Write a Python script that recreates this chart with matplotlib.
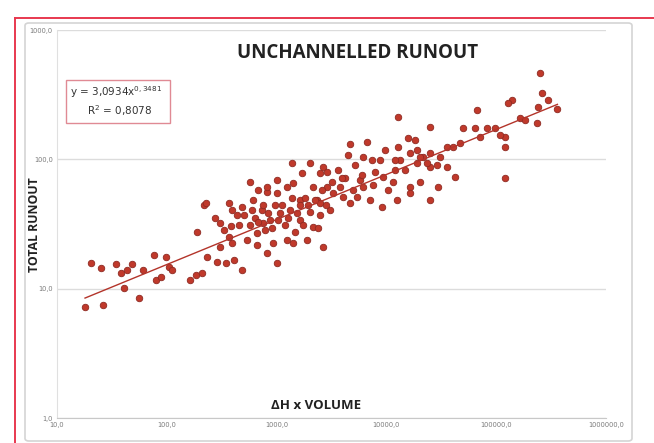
import numpy as np
import matplotlib.pyplot as plt
from matplotlib.patches import Rectangle, FancyBboxPatch
from matplotlib.ticker import FixedLocator, NullLocator

# Measured events: dH x volume vs total runout
volume = [
    18.0, 26.3, 20.4, 25.2, 34.6, 38.4, 48.4, 61.0, 40.9, 56.1,
    76.9, 80.2, 89.1, 98.9, 105, 112, 161, 186, 211, 190,
    234, 289, 349, 413, 479, 302, 396, 532, 657, 811,
    1000, 919, 1234, 1400, 1879, 2631, 2132, 657, 745, 302,
    372, 43.6,
    567, 1000, 1371, 2002, 1692, 2470, 2631, 811, 220, 372,
    396, 604, 671, 811, 1000, 1234, 1400, 1622, 2132, 2319,
    2861,
    510, 630, 730, 863, 1065, 1314, 1622, 2002, 1183, 777,
    1460, 567, 459, 959, 1622, 2470, 3048, 2368, 1802, 229.5,
    2.52e5, 2.63e5, 3.61e5, 2.42e5, 2.37e5, 1.40e5, 1.29e5, 1.66e5, 6.71e4, 5.0e4,
    6.43e4, 8.28e4, 7.14e4, 1.21e5, 1.21e5, 1.21e5, 1.27e4, 2.50e4, 1.57e4, 1.27e4,
    4642, 6636, 6102, 4450, 8720, 1.33e4, 1.64e4, 1.90e4, 2.15e4, 2.50e4,
    3.08e4, 3.57e4, 4.05e4, 4.69e4, 2.50e4, 3.57e4, 4.22e4, 2.95e4, 2.02e4, 1.64e4,
    1.64e4, 1.25e4, 2.50e4, 1.15e4, 9290, 7529, 6102, 4945, 3761, 2861,
    2470, 4642, 7070, 9100, 5378, 4006, 3247, 1.90e4, 2.02e4, 2.34e4,
    2.89e4, 4178, 5728, 7852, 1.03e4, 1.20e4, 9.79e4, 1.09e5, 1.84e5, 2.99e5,
    272, 335, 388, 440, 489, 591, 671, 745, 828, 900,
    1021, 1111, 1260, 1371, 1522, 1728, 1919, 2223, 2576, 2803,
    3180, 3607, 3923, 5157, 5973, 7373, 9690, 1.196e4, 1.476e4, 1.82e4,
]
runout = [
    7.2, 7.5, 15.8, 14.5, 15.5, 13.2, 15.5, 14.0, 10.1, 8.5,
    18.2, 11.7, 12.3, 17.6, 14.7, 14.0, 11.7, 12.8, 13.2, 27.5,
    17.6, 16.1, 15.8, 16.7, 14.0, 21.0, 22.6, 23.8, 21.8, 18.9,
    15.8, 22.6, 23.8, 22.6, 23.8, 21.0, 30.0, 27.0, 32.2, 32.2,
    25.1, 14.0,
    66.9, 69.3, 94.0, 94.0, 78.5, 78.5, 87.4, 56.0, 44.4, 46.0,
    40.6, 48.5, 58.0, 61.2, 55.0, 61.2, 65.7, 48.5, 61.2, 48.5,
    61.2,
    37.1, 35.2, 40.6, 34.0, 38.5, 40.6, 34.0, 39.2, 31.1, 28.4,
    27.5, 31.1, 31.1, 44.4, 44.4, 37.1, 40.6, 29.5, 50.3, 46.0,
    466, 326, 245, 254, 191, 288, 273, 209, 241, 175,
    175, 175, 149, 149, 125, 71.8, 213, 178, 146, 125,
    132, 136, 104, 108, 99, 99, 112, 118, 104, 112,
    104, 125, 125, 134, 87.4, 87.4, 73, 61.2, 66.9, 61.2,
    55, 48.5, 48.5, 66.9, 73, 63.4, 61.2, 58, 61.2, 80,
    46, 46, 48.5, 42.8, 51.2, 51.2, 55, 94, 104, 94,
    90.5, 71.8, 69.3, 80, 58, 82.8, 175, 154, 202, 288,
    35.2, 28.4, 30.5, 37.1, 42.8, 40.6, 32.8, 44.4, 38.5, 29.5,
    34.0, 44.4, 35.2, 50.3, 38.5, 31.1, 44.4, 48.5, 58.0, 44.4,
    66.9, 82.8, 71.8, 90.5, 75.7, 99.0, 118, 99.0, 82.8, 141,
]

# Power-law trendline  y = a * x^b
fit_a = 3.0934
fit_b = 0.3481
fit_r2 = 0.8078

x_ticks = [10, 100, 1000, 10000, 100000, 1000000]
y_ticks = [1, 10, 100, 1000]


def comma_label(v):
    return f'{v:.1f}'.replace('.', ',')


fig = plt.figure(figsize=(6.54, 4.43), dpi=100)
fig.patch.set_facecolor('white')

# red outer frame and grey chart border
fig.add_artist(plt.Line2D([15 / 654, 1.0], [1 - 18 / 443] * 2, color='#e8384f',
                          linewidth=1.4, transform=fig.transFigure))
fig.add_artist(plt.Line2D([15 / 654] * 2, [0, 1 - 18 / 443], color='#e8384f',
                          linewidth=1.4, transform=fig.transFigure))
border = FancyBboxPatch((25 / 654, 2 / 443), 607 / 654, 418 / 443,
                        boxstyle='round,pad=0,rounding_size=0.006',
                        transform=fig.transFigure, facecolor='none',
                        edgecolor='#d4d4d4', linewidth=1.2, zorder=-1)
fig.add_artist(border)

ax = fig.add_axes([57 / 654, 1 - 418 / 443, 549 / 654, 388 / 443])
ax.patch.set_alpha(0)
ax.set_xscale('log')
ax.set_yscale('log')
ax.set_xlim(10, 1e6)
ax.set_ylim(1, 1000)

for s in ['top', 'right']:
    ax.spines[s].set_visible(False)
ax.spines['left'].set_color('#e0e0e0')
ax.spines['bottom'].set_color('#c8c8c8')

ax.xaxis.set_major_locator(FixedLocator(x_ticks))
ax.yaxis.set_major_locator(FixedLocator(y_ticks))
ax.xaxis.set_minor_locator(NullLocator())
ax.yaxis.set_minor_locator(NullLocator())
ax.set_xticklabels([comma_label(v) for v in x_ticks])
ax.set_yticklabels([comma_label(v) for v in y_ticks])
ax.tick_params(axis='both', length=0, labelsize=4.8, colors='#7a7a7a', pad=3)
ax.grid(axis='y', color='#dcdcdc', linewidth=1)
ax.set_axisbelow(True)

ax.scatter(volume, runout, s=22, color='#c0392b', edgecolors='#8e2a22',
           linewidths=0.6, zorder=3)

xf = np.logspace(np.log10(min(volume)), np.log10(max(volume)), 100)
ax.plot(xf, fit_a * xf ** fit_b, color='#b3342a', linewidth=1.0, zorder=4)

ax.text(0.548, 0.94, 'UNCHANNELLED RUNOUT', transform=ax.transAxes,
        ha='center', va='center', fontsize=13.5, fontweight='bold',
        family='Open Sans', color='#222222')
ax.text(0.472, 0.015, 'ΔH x VOLUME', transform=ax.transAxes, ha='center',
        va='bottom', fontsize=9.5, fontweight='bold', family='Open Sans',
        color='#222222')
fig.text(34 / 654, 1 - 225 / 443, 'TOTAL RUNOUT', rotation=90, ha='center',
         va='center', fontsize=8.8, fontweight='bold', family='Open Sans',
         color='#222222')

# trendline equation box
fig.add_artist(Rectangle((66 / 654, 1 - 123 / 443), 104 / 654, 43 / 443,
                         transform=fig.transFigure, facecolor='white',
                         edgecolor='#e08a94', linewidth=1))
b_txt = f'{fit_b:.4f}'.replace('.', ',')
fig.text(70 / 654, 1 - 92 / 443,
         'y = ' + f'{fit_a:.4f}'.replace('.', ',') + 'x$^{' + b_txt + '}$',
         ha='left', va='center', fontsize=7.5, color='#333333')
fig.text(120 / 654, 1 - 111 / 443,
         'R$^2$ = ' + f'{fit_r2:.4f}'.replace('.', ','),
         ha='center', va='center', fontsize=7.5, color='#333333')

fig.savefig('out.png', dpi=100)
